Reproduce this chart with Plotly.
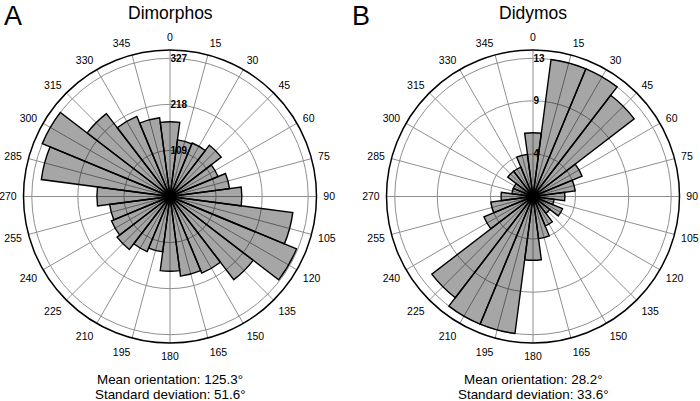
import plotly.graph_objects as go

W, H = 700, 401

# ---- data ----
bin_centers = list(range(0, 360, 15))
angle_labels = [str(a) for a in bin_centers]

dimorphos_counts = [177, 135, 137, 153, 123, 142, 170, 293, 324, 248, 196, 190,
                    177, 132, 141, 158, 150, 144, 173, 307, 327, 247, 205, 188]
dimorphos_ticks = [0, 109, 218, 327]

didymos_counts = [6, 13, 13, 12, 5, 4, 3, 2, 3, 2, 3, 4,
                  6, 13, 13, 12, 5, 4, 3, 2, 2, 3, 3, 4]
didymos_ticks = [0, 4, 9, 13]

titles = ["Dimorphos", "Didymos"]
panel_letters = ["A", "B"]
mean_text = ["Mean orientation: 125.3°", "Mean orientation: 28.2°"]
sd_text = ["Standard deviation: 51.6°", "Standard deviation: 33.6°"]

FONT = "Liberation Sans, Arial, sans-serif"

fig = go.Figure()

def px_x(x):
    return x / W

def px_y(y):
    return 1 - y / H

R = 146.5
centers = [(170, 196.5), (533, 196.5)]
polar_names = ["polar", "polar2"]

for i, (counts, ticks) in enumerate([(dimorphos_counts, dimorphos_ticks),
                                     (didymos_counts, didymos_ticks)]):
    fig.add_trace(go.Barpolar(
        r=counts, theta=bin_centers, width=[15] * len(bin_centers),
        marker=dict(color="rgba(0,0,0,0.35)", line=dict(color="black", width=1.4)),
        subplot=polar_names[i], showlegend=False, hoverinfo="skip",
    ))
    cx, cy = centers[i]
    polar = dict(
        domain=dict(x=[px_x(cx - R), px_x(cx + R)], y=[px_y(cy + R), px_y(cy - R)]),
        bgcolor="white",
        angularaxis=dict(
            rotation=90, direction="clockwise",
            tickmode="array", tickvals=bin_centers, ticktext=angle_labels,
            tickfont=dict(family=FONT, size=10.5, color="black"),
            ticks="outside", ticklen=4, tickcolor="rgba(0,0,0,0)",
            showline=True, linecolor="black", linewidth=1.5,
            showgrid=True, gridcolor="#8f8f8f", gridwidth=1,
        ),
        radialaxis=dict(
            range=[0, max(ticks) * 1.06], angle=90, side="clockwise",
            tickmode="array", tickvals=ticks, ticktext=[str(t) for t in ticks],
            tickfont=dict(family=FONT, size=10, color="black", weight="bold"),
            tickangle=90,
            ticks="", showline=False,
            showgrid=True, gridcolor="#8f8f8f", gridwidth=1,
        ),
    )
    fig.update_layout(**{polar_names[i]: polar})

annotations = []
for i in range(2):
    cx = centers[i][0]
    annotations.append(dict(text=titles[i], x=px_x(cx), y=px_y(13), xref="paper", yref="paper",
                            showarrow=False, xanchor="center", yanchor="middle",
                            font=dict(family=FONT, size=17.5, color="black")))
    annotations.append(dict(text=panel_letters[i], x=px_x([2, 350][i]), y=px_y(16), xref="paper", yref="paper",
                            showarrow=False, xanchor="left", yanchor="middle",
                            font=dict(family=FONT, size=27, color="black")))
    annotations.append(dict(text=mean_text[i], x=px_x(cx), y=px_y(379), xref="paper", yref="paper",
                            showarrow=False, xanchor="center", yanchor="middle",
                            font=dict(family=FONT, size=13.4, color="black")))
    annotations.append(dict(text=sd_text[i], x=px_x(cx), y=px_y(394), xref="paper", yref="paper",
                            showarrow=False, xanchor="center", yanchor="middle",
                            font=dict(family=FONT, size=13.4, color="black")))

fig.update_layout(
    width=W, height=H, margin=dict(l=0, r=0, t=0, b=0),
    paper_bgcolor="white", plot_bgcolor="white",
    annotations=annotations, showlegend=False,
)

fig.write_html("out.html", config={"displayModeBar": False},
               post_script="document.body.style.margin='0';document.body.style.overflow='hidden';")
